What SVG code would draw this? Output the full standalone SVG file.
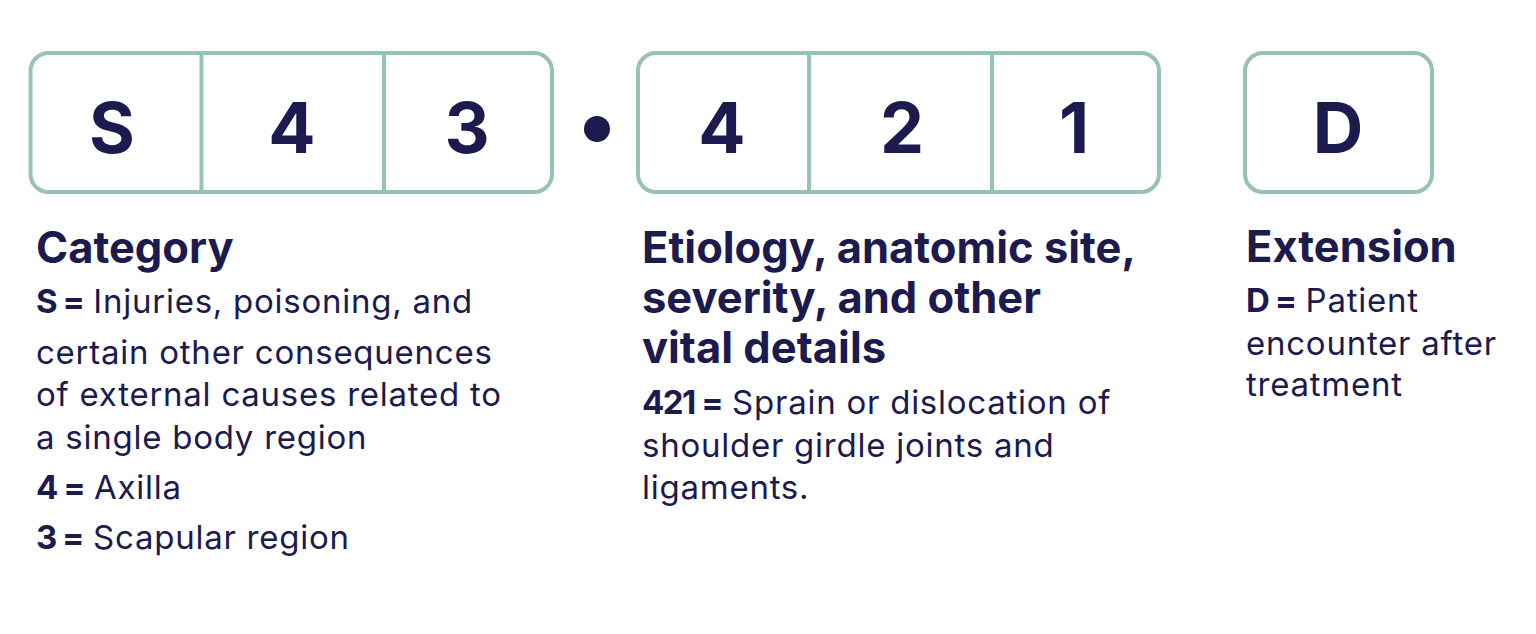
<svg xmlns="http://www.w3.org/2000/svg" width="1536" height="634" viewBox="0 0 1536 634">
<style>
.box{fill:#ffffff;stroke:#97c4ae;stroke-width:4}
.div{stroke:#97c4ae;stroke-width:4}
.big{font-family:Inter,"Noto Sans",sans-serif;font-weight:700;font-size:70px;fill:#1c1a4e;text-anchor:middle}
.h{font-family:Inter,"Noto Sans",sans-serif;font-weight:700;font-size:43.5px;fill:#1c1a4e}
.t{font-family:Inter,"Noto Sans",sans-serif;font-weight:400;font-size:33px;letter-spacing:0.75px;fill:#1c1a4e}
.b{font-weight:700;letter-spacing:-1.5px}
</style>
<rect width="1536" height="634" fill="#ffffff"/>
<g id="box-category">
<rect class="box" x="30.5" y="53" width="521.5" height="139" rx="18"/>
<line class="div" x1="201.5" y1="53" x2="201.5" y2="192"/>
<line class="div" x1="384" y1="53" x2="384" y2="192"/>
<text class="big" x="112" y="153">S</text>
<text class="big" x="292" y="153">4</text>
<text class="big" x="467" y="153">3</text>
</g>
<g id="separator-dot">
<circle cx="597" cy="129" r="13" fill="#1c1a4e"/>
</g>
<g id="box-etiology">
<rect class="box" x="638" y="53" width="521" height="139" rx="18"/>
<line class="div" x1="809" y1="53" x2="809" y2="192"/>
<line class="div" x1="992" y1="53" x2="992" y2="192"/>
<text class="big" x="722" y="153">4</text>
<text class="big" x="902" y="153">2</text>
<text class="big" x="1074" y="153">1</text>
</g>
<g id="box-extension">
<rect class="box" x="1245" y="53" width="187" height="139" rx="18"/>
<text class="big" x="1338" y="153">D</text>
</g>
<g id="text-category">
<text class="h" x="36" y="263">Category</text>
<text class="t" x="36" y="313"><tspan class="b">S =</tspan> Injuries, poisoning, and</text>
<text class="t" x="36" y="364">certain other consequences</text>
<text class="t" x="36" y="406">of external causes related to</text>
<text class="t" x="36" y="449">a single body region</text>
<text class="t" x="36" y="499"><tspan class="b">4 =</tspan> Axilla</text>
<text class="t" x="36" y="549"><tspan class="b">3 =</tspan> Scapular region</text>
</g>
<g id="text-etiology">
<text class="h" x="642" y="263">Etiology, anatomic site,</text>
<text class="h" x="642" y="313">severity, and other</text>
<text class="h" x="642" y="363">vital details</text>
<text class="t" x="642" y="414"><tspan class="b">421 =</tspan> Sprain or dislocation of</text>
<text class="t" x="642" y="457">shoulder girdle joints and</text>
<text class="t" x="642" y="499">ligaments.</text>
</g>
<g id="text-extension">
<text class="h" x="1246" y="262">Extension</text>
<text class="t" x="1246" y="312"><tspan class="b">D =</tspan> Patient</text>
<text class="t" x="1246" y="355">encounter after</text>
<text class="t" x="1246" y="396">treatment</text>
</g>
<g id="connectors"/>
</svg>
